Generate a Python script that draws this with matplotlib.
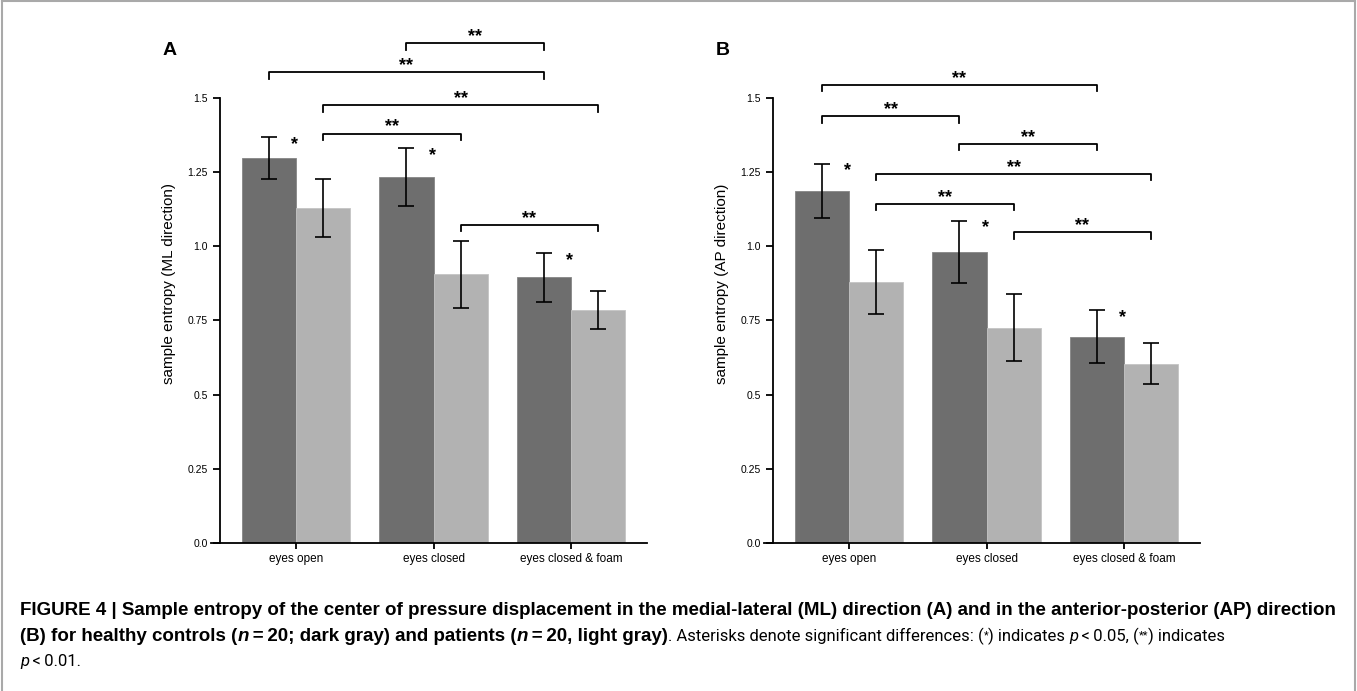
import matplotlib
matplotlib.use("Agg")
import matplotlib.pyplot as plt
from matplotlib.lines import Line2D

plt.rcParams['font.family'] = ['Liberation Sans', 'DejaVu Sans']

groups = ["eyes open", "eyes closed", "eyes closed & foam"]
yticks = [0.0, 0.25, 0.5, 0.75, 1.0, 1.25, 1.5]
yticklabels = ["0.0", "0.25", "0.5", "0.75", "1.0", "1.25", "1.5"]

# panel A (ML direction)
ml_controls = [1.298, 1.234, 0.895]
ml_controls_err = [0.070, 0.097, 0.082]
ml_patients = [1.129, 0.905, 0.785]
ml_patients_err = [0.098, 0.112, 0.065]
# brackets: (group, bar 0=dark 1=light) -> (group, bar), height
ml_brackets = [((1, 0), (2, 0), 1.685), ((0, 0), (2, 0), 1.586),
               ((0, 1), (2, 1), 1.476), ((0, 1), (1, 1), 1.380),
               ((1, 1), (2, 1), 1.072)]

# panel B (AP direction)
ap_controls = [1.188, 0.981, 0.695]
ap_controls_err = [0.091, 0.106, 0.089]
ap_patients = [0.880, 0.725, 0.605]
ap_patients_err = [0.108, 0.113, 0.068]
ap_brackets = [((0, 0), (2, 0), 1.544), ((0, 0), (1, 0), 1.439),
               ((1, 0), (2, 0), 1.345), ((0, 1), (2, 1), 1.244),
               ((0, 1), (1, 1), 1.143), ((1, 1), (2, 1), 1.048)]

dark = "#6e6e6e"
light = "#b2b2b2"
w = 0.393

fig = plt.figure(figsize=(13.57, 6.91), dpi=100)


def panel(ax, ctrl, cerr, pat, perr, brackets, ylabel, letter):
    xs = range(len(groups))
    xd = [x - w / 2 for x in xs]
    xl = [x + w / 2 for x in xs]
    ax.bar(xd, ctrl, w, color=dark, edgecolor="#858585", linewidth=0.6)
    ax.bar(xl, pat, w, color=light, edgecolor="#c4c4c4", linewidth=0.6)
    ax.errorbar(xd, ctrl, yerr=cerr, fmt="none", ecolor="black", elinewidth=1.2, capsize=6, capthick=1.2)
    ax.errorbar(xl, pat, yerr=perr, fmt="none", ecolor="black", elinewidth=1.2, capsize=6, capthick=1.2)
    # single stars right of dark bars
    for i in xs:
        ax.text(xd[i] + w / 2 - 0.01, ctrl[i] + cerr[i] - 0.025, "*", ha="center", va="center",
                fontsize=13, fontweight="bold")
    for (g1, b1), (g2, b2), h in brackets:
        x1 = g1 - w / 2 + b1 * w
        x2 = g2 - w / 2 + b2 * w
        ax.plot([x1, x1, x2, x2], [h - 0.022, h, h, h - 0.022], color="black", lw=1.3, clip_on=False)
        ax.text((x1 + x2) / 2, h + 0.022, "**", ha="center", va="center", fontsize=13, fontweight="bold")
    ax.set_xlim(-0.62, 2.553)
    ax.set_ylim(0, 1.75)
    ax.spines["top"].set_visible(False)
    ax.spines["right"].set_visible(False)
    ax.spines["left"].set_position(("data", -0.553))
    ax.spines["left"].set_bounds(0, 1.5)
    ax.spines["left"].set_linewidth(1.3)
    ax.spines["bottom"].set_linewidth(1.3)
    ax.set_yticks(yticks)
    ax.set_yticklabels(yticklabels, fontsize=7.5)
    ax.set_xticks(list(xs))
    ax.set_xticklabels(groups, fontsize=8.5)
    ax.tick_params(axis="y", length=5, width=1.3, pad=4)
    ax.tick_params(axis="x", length=4, width=1.3, pad=3)
    ax.set_ylabel(ylabel, fontsize=11, labelpad=8)
    ax.text(-0.97, 1.66, letter, transform=ax.transData, fontsize=14, fontweight="bold",
            ha="left", va="center")


axA = fig.add_axes([210.8 / 1357, 148 / 691, 436.2 / 1357, 519.2 / 691])
axB = fig.add_axes([763.8 / 1357, 148 / 691, 436.2 / 1357, 519.2 / 691])
panel(axA, ml_controls, ml_controls_err, ml_patients, ml_patients_err, ml_brackets,
      "sample entropy (ML direction)", "A")
panel(axB, ap_controls, ap_controls_err, ap_patients, ap_patients_err, ap_brackets,
      "sample entropy (AP direction)", "B")

# border
bc = "#a9a9a9"
fig.add_artist(Line2D([0.0015, 0.9985], [0.998, 0.998], color=bc, lw=1.5, transform=fig.transFigure))
fig.add_artist(Line2D([0.0015, 0.0015], [0.0, 0.998], color=bc, lw=1.5, transform=fig.transFigure))
fig.add_artist(Line2D([0.9985, 0.9985], [0.0, 0.998], color=bc, lw=1.5, transform=fig.transFigure))

# caption with mixed styles: (text, kind)
B, BI, R, RI, RS = "b", "bi", "r", "ri", "rs"
styles = {
    "b": dict(family=['Liberation Sans', 'DejaVu Sans'], fontweight="bold", fontstyle="normal"),
    "bi": dict(family=['Liberation Sans', 'DejaVu Sans'], fontweight="bold", fontstyle="italic"),
    "r": dict(family=['Roboto', 'DejaVu Sans'], fontweight="normal", fontstyle="normal"),
    "ri": dict(family=['Roboto', 'DejaVu Sans'], fontweight="normal", fontstyle="italic"),
    "rs": dict(family=['Roboto', 'DejaVu Sans'], fontweight="normal", fontstyle="normal"),
}
caption = [
    [("FIGURE 4 | Sample entropy of the center of pressure displacement in the medial-lateral (ML) "
      "direction (A) and in the anterior-posterior (AP) direction", B)],
    [("(B) for healthy controls (", B), ("n", BI),
     ("\u2009=\u200920; dark gray) and patients (", B), ("n", BI),
     ("\u2009=\u200920, light gray)", B),
     (". Asterisks denote significant differences: (", R), ("*", RS), (") indicates ", R),
     ("p", RI), ("\u2009<\u20090.05, (", R), ("**", RS), (") indicates", R)],
    [("p", RI), ("\u2009<\u20090.01.", R)],
]
sizes = {"b": 13.5, "bi": 13.5, "r": 12.0, "ri": 12.0, "rs": 8}
raise_px = {"b": 0, "bi": 0, "r": 0, "ri": 0, "rs": 3}
line_base = [615, 641, 666]
renderer = fig.canvas.get_renderer()
for runs, yb in zip(caption, line_base):
    x = 20 / 1357
    for txt, kind in runs:
        y = 1 - (yb - raise_px[kind]) / 691
        t = fig.text(x, y, txt, fontsize=sizes[kind], ha="left", va="baseline",
                     color="black", **styles[kind])
        bb = t.get_window_extent(renderer)
        x += bb.width / fig.bbox.width

fig.savefig("out.png", dpi=100)
